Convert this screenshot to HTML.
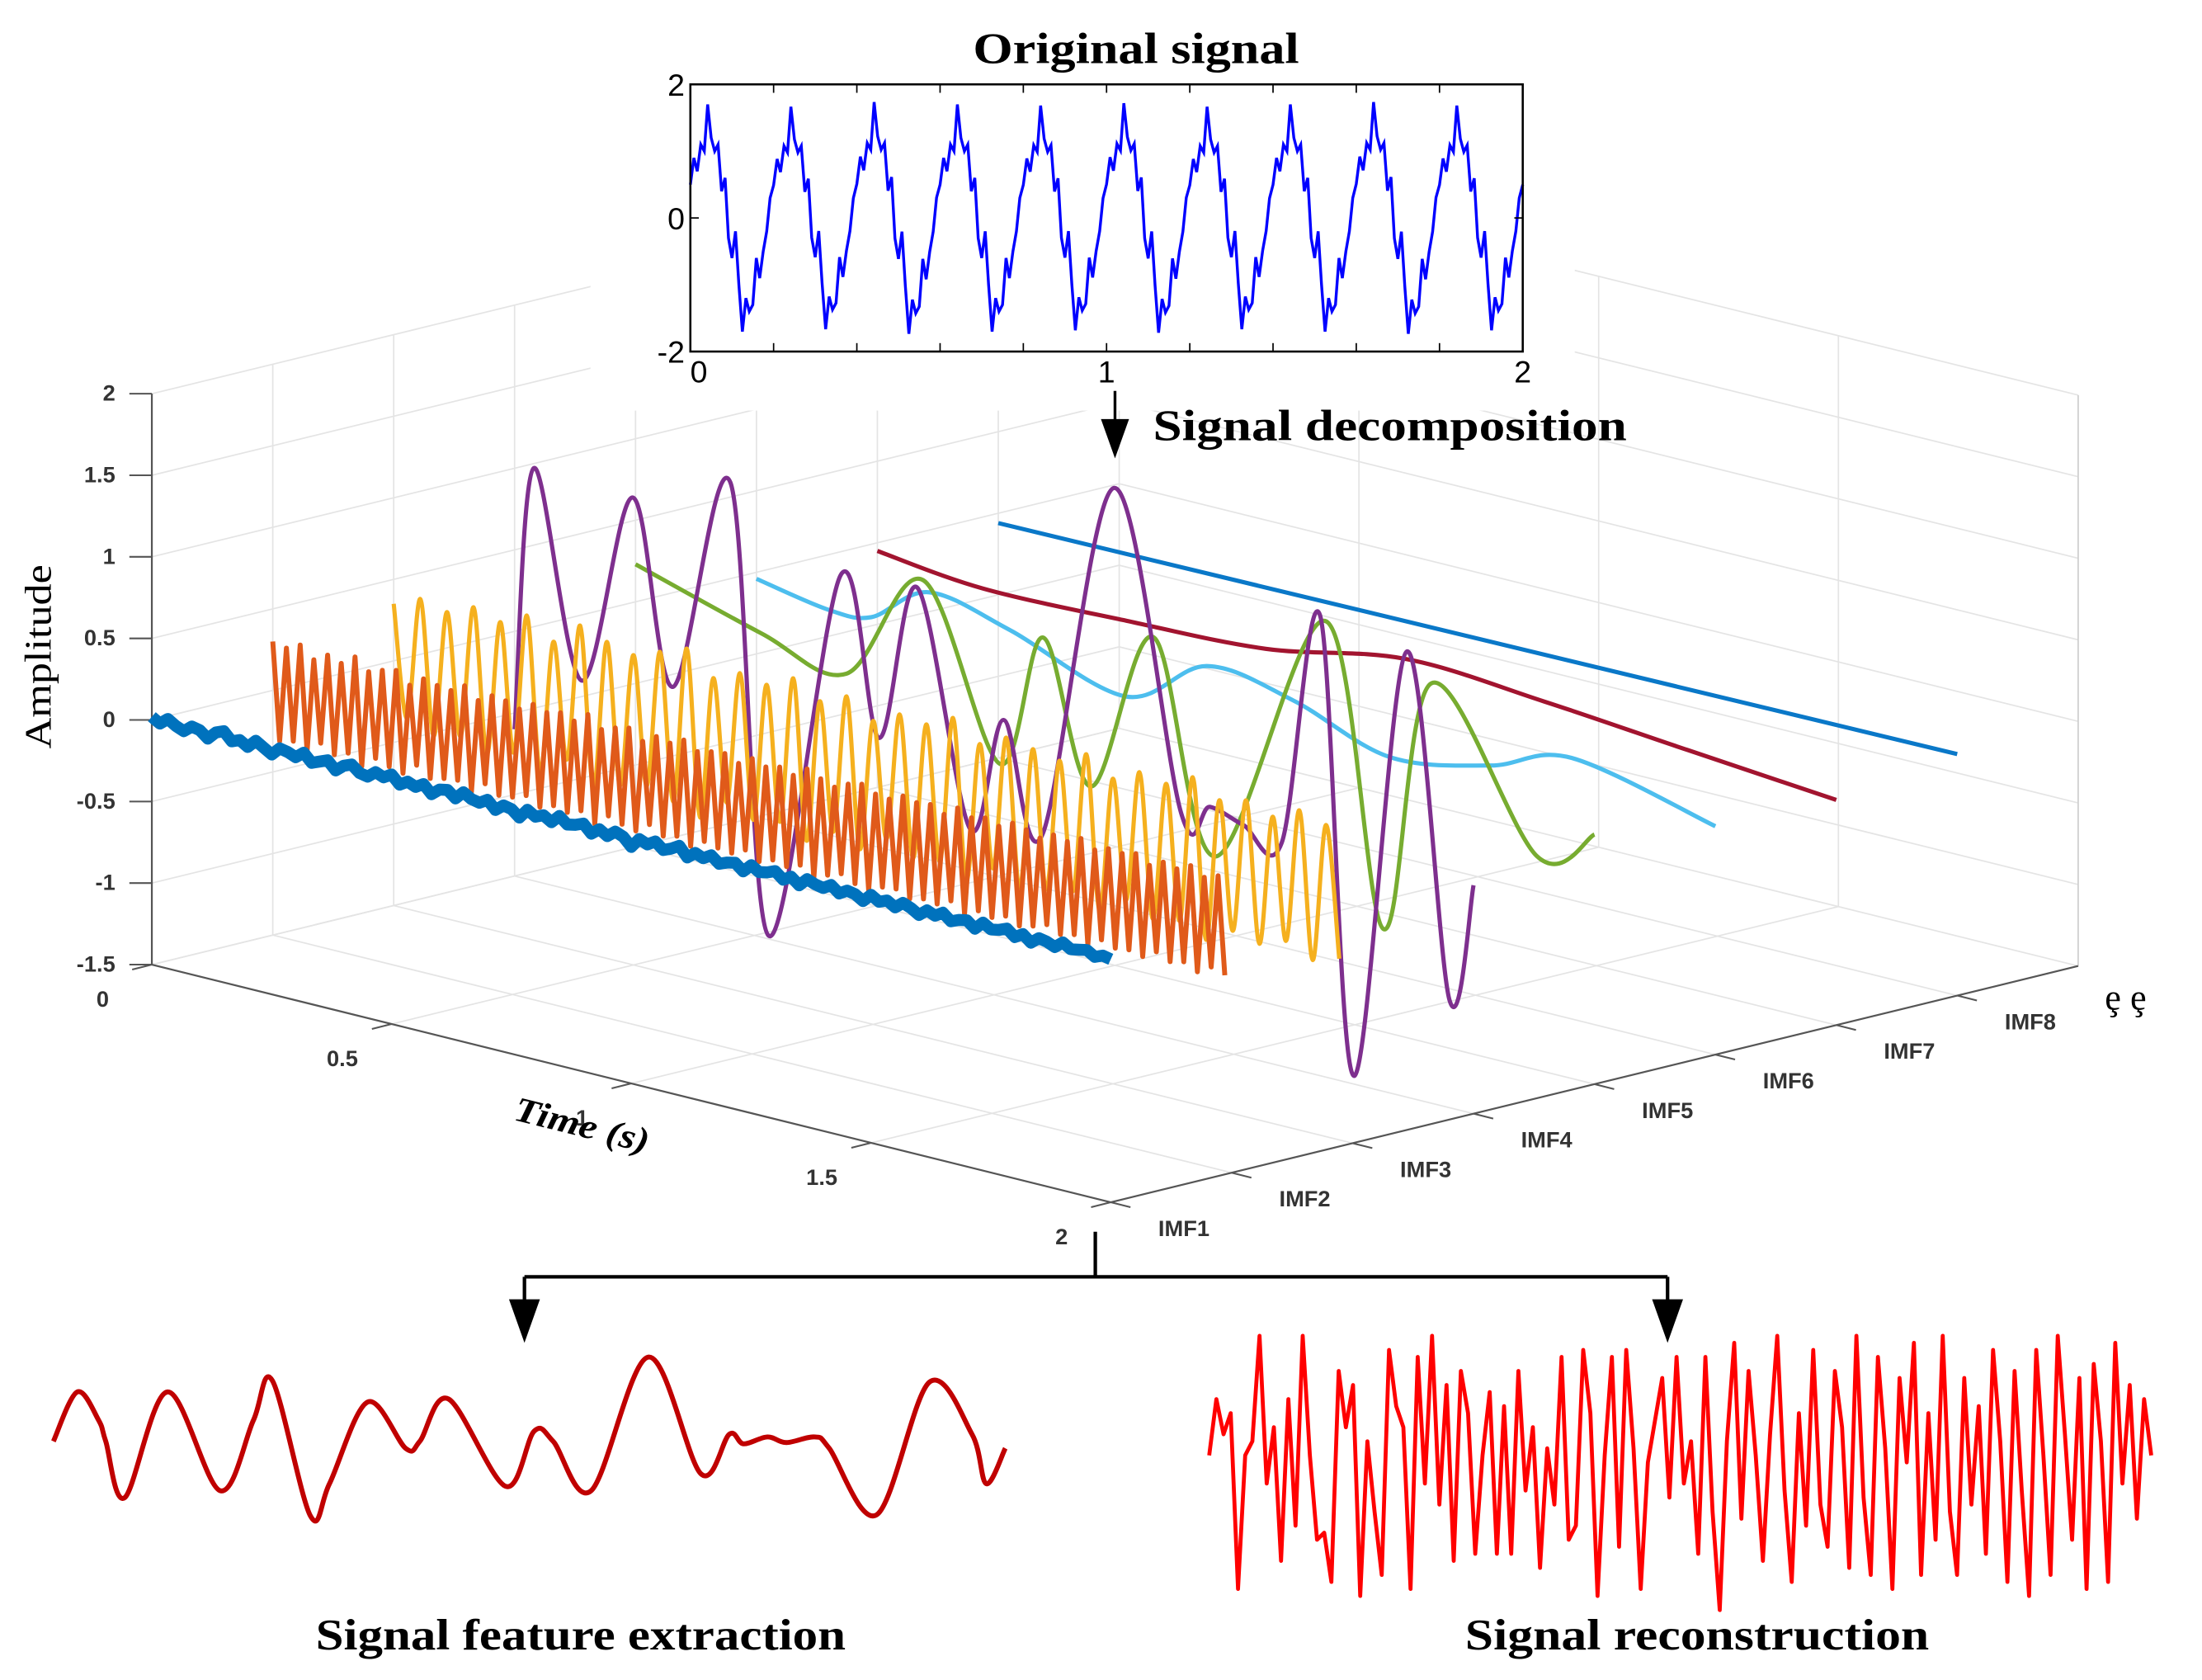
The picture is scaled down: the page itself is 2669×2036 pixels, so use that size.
<!DOCTYPE html>
<html><head><meta charset="utf-8">
<style>
html,body{margin:0;padding:0;background:#fff;}
svg{display:block;}
.ser{font-family:"Liberation Serif",serif;}
.sans{font-family:"Liberation Sans",sans-serif;}
.tk{font-family:"Liberation Sans",sans-serif;font-weight:bold;font-size:16px;fill:#333;}
</style></head>
<body>
<svg id="fig" width="2669" height="2036" viewBox="0 0 1552 1184" preserveAspectRatio="none" xmlns="http://www.w3.org/2000/svg">
 <g transform="scale(0.991)">
  <g id="grid"></g>
  <g id="axes3d"></g>
  <g id="series3d"></g>
  <text x="36" y="467" class="ser" font-size="27" text-anchor="middle" textLength="131" lengthAdjust="spacingAndGlyphs" transform="rotate(-90 36 467)">Amplitude</text>
  <text x="412" y="808" class="ser" font-size="25" font-weight="bold" font-style="italic" text-anchor="middle" textLength="98" lengthAdjust="spacingAndGlyphs" transform="rotate(14 412 808)">Time (s)</text>
  <text x="1497" y="718" class="ser" font-size="26">ȩ ȩ</text>

  <rect x="420" y="0" width="700" height="292" fill="#fff"/>
  <text x="808" y="45" class="ser" font-size="31" font-weight="bold" text-anchor="middle" textLength="232" lengthAdjust="spacingAndGlyphs">Original signal</text>
  <g id="topplot"></g>

  <line x1="793" y1="278" x2="793" y2="300" stroke="#000" stroke-width="2"/>
  <polygon points="783,298 803,298 793,326" fill="#000"/>
  <text x="820" y="313" class="ser" font-size="31" font-weight="bold" textLength="337" lengthAdjust="spacingAndGlyphs">Signal decomposition</text>
  <path d="M779,876 V908 M373,908 H1186 M373,908 V928 M1186,908 V928" stroke="#000" stroke-width="2.5" fill="none"/>
  <polygon points="362,924 384,924 373,955" fill="#000"/>
  <polygon points="1175,924 1197,924 1186,955" fill="#000"/>

  <g id="bottom"></g>
  <text x="413" y="1173" class="ser" font-size="31" font-weight="bold" text-anchor="middle" textLength="377" lengthAdjust="spacingAndGlyphs">Signal feature extraction</text>
  <text x="1207" y="1173" class="ser" font-size="31" font-weight="bold" text-anchor="middle" textLength="330" lengthAdjust="spacingAndGlyphs">Signal reconstruction</text>
 </g>
</svg>
<script>
// ---------- data ----------
const ampTicks = [2, 1.5, 1, 0.5, 0, -0.5, -1, -1.5];
const ampTickLabels = ["2", "1.5", "1", "0.5", "0", "-0.5", "-1", "-1.5"];
const timeTicks = [0, 0.5, 1, 1.5, 2];
const timeTickLabels = ["0", "0.5", "1", "1.5", "2"];
const imfNames = ["IMF1","IMF2","IMF3","IMF4","IMF5","IMF6","IMF7","IMF8"];
const imfColors = ["#0072bd","#e05a1a","#f5b01e","#7e2f8e","#77ac30","#4dbeee","#a2142f","#0a78c8"];

const imf1Noise = [0.02,-0.01,0.03,0.0,-0.02,0.02,0.01,-0.03,0.02,0.04,-0.01,0.01,-0.02,0.03,0.0,-0.03,0.02,0.01,-0.01,0.03,-0.02,0.0,0.02,-0.03,0.01,0.03,-0.01,-0.02,0.02,0.0,0.03,-0.02,0.01,-0.01,0.02,-0.03,0.01,0.02,-0.02,0.03,0.0,-0.01,0.02,-0.03,0.01,0.0,-0.04,0.02,-0.01,0.01,-0.02,0.03,-0.01,0.0,0.02,-0.03,0.01,-0.02,0.02,0.0,-0.05,0.01,-0.01,0.02,-0.02,0.0,0.03,-0.03,0.01,-0.01,0.02,-0.02,0.0,0.01,-0.03,0.02,-0.01,0.0,0.02,-0.02,0.01,-0.03,0.02,0.0,-0.01,0.02,-0.02,0.01,0.0,-0.03,0.02,-0.01,0.01,-0.02,0.02,0.0,-0.03,0.01,-0.01,0.02,-0.02,0.0,0.01,-0.03,0.02,-0.01,0.0,0.02,-0.02,0.01,-0.03,0.01,0.0,-0.02,0.02,-0.01,0.0,0.01,-0.02,0.0,-0.01];
const imf2Env = [0.3,0.28,0.32,0.25,0.3,0.27,0.33,0.26,0.29,0.31,0.24,0.3,0.28,0.27,0.32,0.25,0.3,0.29,0.26,0.31,0.28,0.3,0.27,0.33,0.26,0.29,0.31,0.25,0.3,0.28,0.32,0.27,0.29,0.3,0.26,0.31,0.28,0.3,0.27,0.33,0.29,0.26,0.3,0.32,0.28,0.27,0.31,0.29,0.3,0.26,0.32,0.28,0.3,0.27,0.31,0.29,0.26,0.3,0.28,0.32,0.27,0.3,0.29,0.31,0.26,0.3,0.28,0.32,0.27,0.3];
const imf3Env = [0.35,0.42,0.38,0.45,0.4,0.48,0.36,0.5,0.44,0.4,0.46,0.52,0.38,0.45,0.42,0.5,0.4,0.47,0.36,0.44,0.42,0.5,0.38,0.46,0.43,0.4,0.48,0.37,0.45,0.42,0.5,0.4,0.44,0.38,0.46,0.41];
const imf4T = [0,0.04,0.14,0.246,0.33,0.45,0.53,0.68,0.76,0.84,0.95,1.02,1.1,1.25,1.39,1.45,1.52,1.6,1.68,1.75,1.86,1.95,2.0];
const imf4A = [-0.6,1.03,-0.2,1.0,-0.1,1.24,-1.48,0.84,-0.1,0.88,-0.52,0.2,-0.45,1.79,-0.1,-0.02,-0.08,-0.13,1.32,-1.45,1.23,-0.84,-0.1];
const imf5T = [0,0.26,0.44,0.6,0.76,0.85,0.95,1.08,1.21,1.44,1.56,1.66,1.88,2.0];
const imf5A = [0.23,0.0,-0.12,0.57,-0.44,0.4,-0.44,0.57,-0.68,0.93,-0.87,0.71,-0.19,0.03];
const imf6T = [0,0.15,0.24,0.36,0.53,0.77,0.94,1.12,1.32,1.53,1.7,2.0];
const imf6A = [-0.04,-0.12,-0.1,0.14,0.03,-0.2,0.11,0.03,-0.17,-0.07,0.1,-0.1];
const imf7T = [0,0.22,0.52,0.81,1.1,1.39,1.69,2.0];
const imf7A = [-0.05,-0.12,-0.1,-0.06,0.09,0.04,-0.04,-0.12];
const imf8T = [0,2];
const imf8A = [-0.06,-0.02];

const origPeriod = [0.5,0.9,0.7,1.1,1.0,1.7,1.2,1.0,1.1,0.4,0.6,-0.3,-0.6,-0.2,-1.0,-1.7,-1.2,-1.4,-1.3,-0.6,-0.9,-0.5,-0.2,0.3];
const origScale = [1.0,0.98,1.02,1.0,0.99,1.01,0.98,1.0,1.02,0.99];
const origTicksY = [2,0,-2];
const origTicksX = [0,1,2];

const featT = [0,.05,.095,.11,.15,.24,.35,.42,.46,.54,.58,.66,.74,.77,.83,.95,1.01,1.05,1.13,1.25,1.36,1.42,1.45,1.5,1.54,1.6,1.63,1.73,1.84,1.93,1.96,2.0];
const featV = [0,.78,.33,0,-.89,.78,-.78,.33,.96,-1.18,-.67,.62,-.11,0,.67,-.71,.16,0,-.78,1.33,-.51,.11,-.04,.07,-.02,.07,-.11,-1.16,.93,.11,-.67,-.11];

const reconV = [0.2,1.0,0.5,0.8,-1.7,0.2,0.4,1.9,-0.2,0.6,-1.3,1.0,-0.8,1.9,0.2,-1.0,-0.9,-1.6,1.4,0.6,1.2,-1.8,0.4,-0.6,-1.5,1.7,0.9,0.6,-1.7,1.6,-0.2,1.9,-0.5,1.2,-1.3,1.4,0.8,-1.2,0.2,1.1,-1.2,0.9,-1.2,1.4,-0.3,0.6,-1.4,0.3,-0.5,1.6,-1.0,-0.8,1.7,0.8,-1.8,0.2,1.6,-1.1,1.7,0.3,-1.7,0.1,0.7,1.3,-0.4,1.6,-0.2,0.4,-1.2,1.6,-0.6,-2.0,0.4,1.8,-0.7,1.4,0.2,-1.3,0.5,1.9,-0.3,-1.6,0.8,-0.8,1.7,-0.5,-1.1,1.4,0.6,-1.4,1.9,-0.4,-1.5,1.6,0.3,-1.7,1.3,0.1,1.8,-1.5,0.8,-1.0,1.9,-0.6,-1.5,1.3,-0.5,0.9,-1.2,1.7,0.4,-1.6,1.4,-0.3,-1.8,1.7,0.2,-1.5,1.9,0.5,-1.0,1.3,-1.7,1.5,0.4,-1.6,1.8,-0.2,1.2,-0.7,1.0,0.2];

// ---------- helpers ----------
const NS = "http://www.w3.org/2000/svg";
function mk(tag, attrs, parent) {
  const el = document.createElementNS(NS, tag);
  for (const k in attrs) el.setAttribute(k, attrs[k]);
  parent.appendChild(el);
  return el;
}
function px(t, k) { return 108 + t * 341 + (k - 1) * 86; }
function py(t, k, a) { return 686 + t * 84.5 - (k - 1) * 21 - (a + 1.5) * 116; }
function smoothPath(pts) {
  let d = "M" + pts[0][0].toFixed(1) + "," + pts[0][1].toFixed(1);
  for (let i = 0; i < pts.length - 1; i++) {
    const p0 = pts[Math.max(0, i - 1)], p1 = pts[i], p2 = pts[i + 1], p3 = pts[Math.min(pts.length - 1, i + 2)];
    const c1x = p1[0] + (p2[0] - p0[0]) / 6, c1y = p1[1] + (p2[1] - p0[1]) / 6;
    const c2x = p2[0] - (p3[0] - p1[0]) / 6, c2y = p2[1] - (p3[1] - p1[1]) / 6;
    d += " C" + c1x.toFixed(1) + "," + c1y.toFixed(1) + " " + c2x.toFixed(1) + "," + c2y.toFixed(1) + " " + p2[0].toFixed(1) + "," + p2[1].toFixed(1);
  }
  return d;
}
function linePath(pts) { return "M" + pts.map(p => p[0].toFixed(1) + "," + p[1].toFixed(1)).join(" L"); }

// ---------- grid ----------
const grid = document.getElementById("grid");
const GC = "#e4e4e4";
ampTicks.forEach(a => {
  const g1 = mk("path", {d: "M" + px(0,1) + "," + py(0,1,a) + " L" + px(0,9) + "," + py(0,9,a) + " L" + px(2,9) + "," + py(2,9,a), stroke: GC, fill: "none", "stroke-width": 1}, grid);
  
  
});
timeTicks.forEach(t => {
  const g2 = mk("path", {d: "M" + px(t,1) + "," + py(t,1,-1.5) + " L" + px(t,9) + "," + py(t,9,-1.5) + " L" + px(t,9) + "," + py(t,9,2), stroke: GC, fill: "none", "stroke-width": 1}, grid);
  
  
});
imfNames.forEach((n, i) => {
  const k = i + 1;
  const g3 = mk("path", {d: "M" + px(2,k) + "," + py(2,k,-1.5) + " L" + px(0,k) + "," + py(0,k,-1.5) + " L" + px(0,k) + "," + py(0,k,2), stroke: GC, fill: "none", "stroke-width": 1}, grid);
  
  
});
mk("line", {x1: px(2,9), y1: py(2,9,-1.5), x2: px(2,9), y2: py(2,9,2), stroke: "#cfcfcf"}, grid);

// ---------- axes ----------
const ax = document.getElementById("axes3d");
const AC = "#555";
const za = mk("line", {x1: px(0,1), y1: py(0,1,-1.5), x2: px(0,1), y2: py(0,1,2), stroke: AC, "stroke-width": 1.3}, ax);


ampTicks.forEach((a, i) => {
  const y = py(0,1,a);
  mk("line", {x1: 92, y1: y, x2: 108, y2: y, stroke: AC, "stroke-width": 1.2}, ax);
  const tl = mk("text", {x: 82, y: y + 5, "text-anchor": "end", class: "tk"}, ax);
  tl.textContent = ampTickLabels[i];
  
  
});
const ta = mk("line", {x1: px(0,1), y1: py(0,1,-1.5), x2: px(2,1), y2: py(2,1,-1.5), stroke: AC, "stroke-width": 1.3}, ax);


timeTicks.forEach((t, i) => {
  const x = px(t,1), y = py(t,1,-1.5);
  mk("line", {x1: x, y1: y, x2: x - 14, y2: y + 3.5, stroke: AC, "stroke-width": 1.2}, ax);
  const tl = mk("text", {x: x - 35, y: y + 30, "text-anchor": "middle", class: "tk"}, ax);
  tl.textContent = timeTickLabels[i];
  
  
});
const ia = mk("line", {x1: px(2,1), y1: py(2,1,-1.5), x2: px(2,9), y2: py(2,9,-1.5), stroke: AC, "stroke-width": 1.3}, ax);


imfNames.forEach((n, i) => {
  const k = i + 1, x = px(2,k), y = py(2,k,-1.5);
  mk("line", {x1: x, y1: y, x2: x + 14, y2: y + 3.5, stroke: AC, "stroke-width": 1.2}, ax);
  const tl = mk("text", {x: x + 52, y: y + 24, "text-anchor": "middle", class: "tk"}, ax);
  tl.textContent = n;
  
  
});

// ---------- series ----------
const ser = document.getElementById("series3d");
function addSeries(k, pts, color, w, smooth, name) {
  const p = mk("path", {d: smooth ? smoothPath(pts) : linePath(pts), stroke: color, "stroke-width": w, fill: "none", "stroke-linejoin": "round"}, ser);
  
  
}
function knots(k, T, A) { return T.map((t, i) => [px(t,k), py(t,k,A[i])]); }
addSeries(8, knots(8, imf8T, imf8A), imfColors[7], 3, false, "imf8-line");
addSeries(7, knots(7, imf7T, imf7A), imfColors[6], 3, true, "imf7-line");
addSeries(6, knots(6, imf6T, imf6A), imfColors[5], 3, true, "imf6-line");
addSeries(5, knots(5, imf5T, imf5A), imfColors[4], 3, true, "imf5-line");
addSeries(4, knots(4, imf4T, imf4A), imfColors[3], 3, true, "imf4-line");
(function () {
  const pts = [];
  const n = imf3Env.length;
  imf3Env.forEach((a, i) => {
    const t0 = i / n * 2, t1 = (i + 0.5) / n * 2;
    pts.push([px(t0,3), py(t0,3,a)]);
    pts.push([px(t1,3), py(t1,3,-a * 0.95)]);
  });
  addSeries(3, pts, imfColors[2], 3, true, "imf3-line");
})();
(function () {
  const pts = [];
  const n = imf2Env.length;
  imf2Env.forEach((a, i) => {
    const t0 = i / n * 2, t1 = (i + 0.5) / n * 2;
    pts.push([px(t0,2), py(t0,2,a)]);
    pts.push([px(t1,2), py(t1,2,-a)]);
  });
  addSeries(2, pts, imfColors[1], 3.5, false, "imf2-line");
})();
(function () {
  const n = imf1Noise.length;
  const pts = imf1Noise.map((a, i) => { const t = i / (n - 1) * 2; return [px(t,1), py(t,1,a)]; });
  addSeries(1, pts, imfColors[0], 8.5, false, "imf1-line");
})();

// ---------- top plot ----------
const tp = document.getElementById("topplot");
const X0 = 491, X1 = 1083, Y0 = 60, Y1 = 250;
function tx(t) { return X0 + t / 2 * (X1 - X0); }
function ty(v) { return Y0 + (2 - v) / 4 * (Y1 - Y0); }
(function () {
  const pts = [];
  const m = origPeriod.length;
  origScale.forEach((s, p) => {
    origPeriod.forEach((v, j) => {
      const t = (p * m + j) / (origScale.length * m) * 2;
      pts.push([tx(t), ty(v * s)]);
    });
  });
  pts.push([tx(2), ty(origPeriod[0])]);
  const sp = mk("path", {d: linePath(pts), stroke: "#0000ff", "stroke-width": 2, fill: "none"}, tp);
  
  
})();
const box = mk("rect", {x: X0, y: Y0, width: X1 - X0, height: Y1 - Y0, fill: "none", stroke: "#000", "stroke-width": 1.5}, tp);


origTicksY.forEach(v => {
  mk("line", {x1: X0, y1: ty(v), x2: X0 + 6, y2: ty(v), stroke: "#000"}, tp);
  mk("line", {x1: X1, y1: ty(v), x2: X1 - 6, y2: ty(v), stroke: "#000"}, tp);
  const l = mk("text", {x: X0 - 4, y: ty(v) + 8, "text-anchor": "end", class: "sans", "font-size": 22}, tp);
  l.textContent = String(v);
  
  
});
origTicksX.forEach(v => {
  const l = mk("text", {x: tx(v) + (v === 0 ? 6 : 0), y: Y1 + 22, "text-anchor": "middle", class: "sans", "font-size": 22}, tp);
  l.textContent = String(v);
  
  
});
for (let i = 1; i < 10; i++) {
  const t = i * 0.2;
  mk("line", {x1: tx(t), y1: Y1, x2: tx(t), y2: Y1 - 6, stroke: "#000"}, tp);
  mk("line", {x1: tx(t), y1: Y0, x2: tx(t), y2: Y0 + 6, stroke: "#000"}, tp);
}

// ---------- bottom signals ----------
const bt = document.getElementById("bottom");
(function () {
  const pts = featT.map((t, i) => [38 + t / 2 * 677, 1025 - featV[i] * 45]);
  const p = mk("path", {d: smoothPath(pts), stroke: "#c00000", "stroke-width": 3.5, fill: "none"}, bt);
  
  
})();
(function () {
  const n = reconV.length;
  const pts = reconV.map((v, i) => [860 + i / (n - 1) * 670, 1045 - v * 50]);
  const p = mk("path", {d: linePath(pts), stroke: "#ff0000", "stroke-width": 2.8, fill: "none", "stroke-linejoin": "round"}, bt);
  
  
})();
</script>
</body></html>
